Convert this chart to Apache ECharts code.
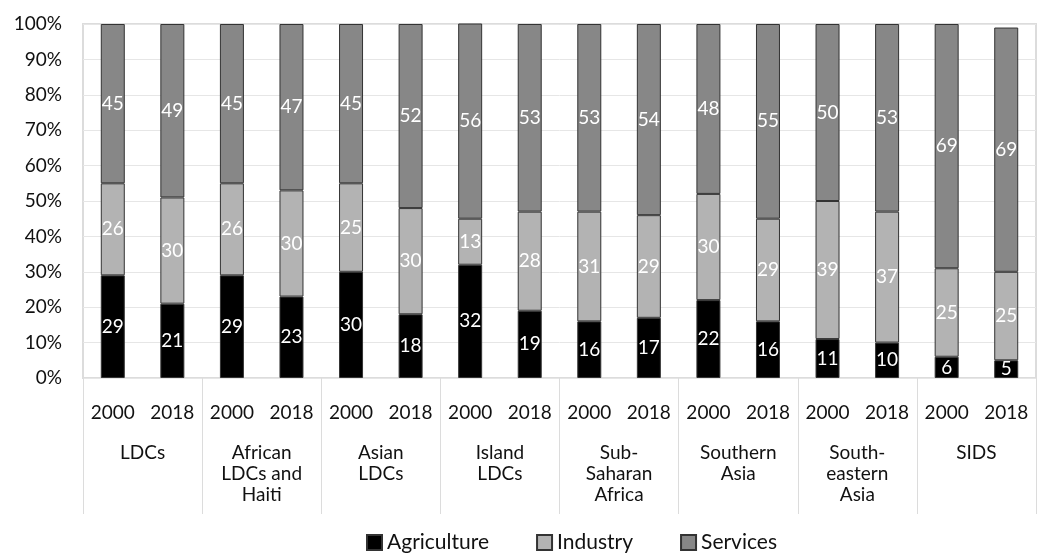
<!DOCTYPE html>
<html>
<head>
<meta charset="utf-8">
<script src="https://cdn.jsdelivr.net/npm/echarts@6/dist/echarts.min.js"></script>
<style>
  html, body { margin: 0; padding: 0; background: #fff; }
  #chart { width: 1038px; height: 554px; }
</style>
</head>
<body>
<div id="chart"></div>
<script>
// Country groups and the two survey years shown for each
const groups = ['LDCs', 'African\nLDCs and\nHaiti', 'Asian\nLDCs', 'Island\nLDCs', 'Sub-\nSaharan\nAfrica', 'Southern\nAsia', 'South-\neastern\nAsia', 'SIDS'];
const years = ['2000', '2018'];

// Share of value added by sector (%), one entry per group/year bar
const agriculture = [29, 21, 29, 23, 30, 18, 32, 19, 16, 17, 22, 16, 11, 10, 6, 5];
const industry    = [26, 30, 26, 30, 25, 30, 13, 28, 31, 29, 30, 29, 39, 37, 25, 25];
const services    = [45, 49, 45, 47, 45, 52, 56, 53, 53, 54, 48, 55, 50, 53, 69, 69];

const yTicks = { min: 0, max: 100, interval: 10 };

const FONT = 'Lato';

// One unique key per bar so repeated years stay separate categories
const barKeys = [];
groups.forEach((g, gi) => years.forEach(y => barKeys.push(gi + '|' + y)));

function sectorSeries(name, data, color) {
  return {
    name: name,
    type: 'bar',
    stack: 'share',
    data: data,
    barWidth: 24,
    itemStyle: { color: color, borderColor: '#333', borderWidth: 1 },
    label: {
      show: true,
      position: 'inside',
      color: '#fff',
      fontFamily: FONT,
      fontSize: 19
    }
  };
}

const chart = echarts.init(document.getElementById('chart'), null, { renderer: 'canvas' });
chart.setOption({
  animation: false,
  backgroundColor: '#fff',
  grid: {
    left: 83, right: 2, top: 24, bottom: 176,
    show: true, borderColor: '#dcdcdc', borderWidth: 2, backgroundColor: 'transparent'
  },
  legend: {
    bottom: 1,
    left: 366,
    padding: 0,
    itemWidth: 15,
    itemHeight: 15,
    itemGap: 47,
    icon: 'rect',
    textStyle: { fontFamily: FONT, fontSize: 21, color: '#111' },
    data: ['Agriculture', 'Industry', 'Services']
  },
  xAxis: [
    {
      type: 'category',
      data: barKeys,
      position: 'bottom',
      axisLine: { show: false },
      axisTick: { show: false },
      axisLabel: {
        interval: 0,
        margin: 25,
        fontFamily: FONT,
        fontSize: 19,
        color: '#111',
        formatter: v => v.split('|')[1]
      }
    },
    {
      type: 'category',
      data: groups,
      position: 'bottom',
      axisLine: { show: false },
      axisTick: { show: true, length: 136, lineStyle: { color: '#dcdcdc', width: 1 } },
      axisLabel: {
        interval: 0,
        margin: 64,
        verticalAlign: 'top',
        lineHeight: 21,
        fontFamily: FONT,
        fontSize: 19,
        color: '#111'
      }
    }
  ],
  yAxis: {
    type: 'value',
    min: yTicks.min,
    max: yTicks.max,
    interval: yTicks.interval,
    axisLine: { show: false },
    axisTick: { show: false },
    splitLine: { lineStyle: { color: '#e6e6e6', width: 1 } },
    axisLabel: {
      margin: 21,
      fontFamily: FONT,
      fontSize: 19,
      color: '#111',
      formatter: '{value}%'
    }
  },
  series: [
    sectorSeries('Agriculture', agriculture, '#000000'),
    sectorSeries('Industry', industry, '#b3b3b3'),
    sectorSeries('Services', services, '#878787')
  ]
});
</script>
</body>
</html>
